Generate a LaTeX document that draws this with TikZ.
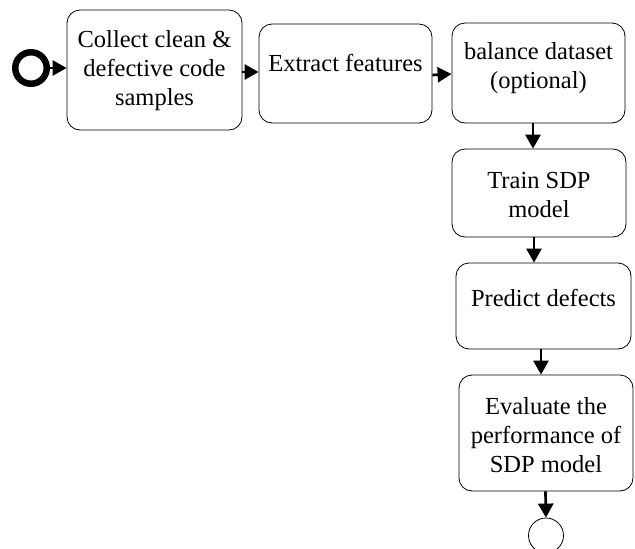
\documentclass[tikz,border=0pt]{standalone}
\usepackage{fontspec}
\setmainfont{Liberation Serif}
\newfontfamily\tnr{Liberation Serif}
\usetikzlibrary{arrows.meta}
\begin{document}
\begin{tikzpicture}[x=1pt,y=-1pt,
  box/.style={draw, line width=0.8pt, rounded corners=13pt, inner sep=0pt},
  txt/.style={align=center, font=\tnr\fontsize{24.5}{29}\selectfont, inner sep=0pt},
  arr/.style={line width=2.7pt, -{Triangle[length=14pt,width=15pt]}}]
\useasboundingbox (0,0) rectangle (635,549);
\node[circle, draw, line width=6.5pt, minimum size=31.5pt, inner sep=0pt] (start) at (31,68) {};
\node[box, minimum width=175pt, minimum height=120pt] (b1) at (154.5,70) {};
\node[box, minimum width=173pt, minimum height=99pt] (b2) at (345.5,73.5) {};
\node[box, minimum width=173pt, minimum height=100pt] (b3) at (538.5,73) {};
\node[box, minimum width=174pt, minimum height=88pt] (b4) at (539,193) {};
\node[box, minimum width=175pt, minimum height=86pt] (b5) at (543.5,306) {};
\node[box, minimum width=174pt, minimum height=116pt] (b6) at (546,433) {};
\node[circle, draw, line width=0.8pt, minimum size=35pt, inner sep=0pt] (end) at (546,535.5) {};
\node[txt] (t1) at (154.5,71) {Collect clean \&\\defective code\\samples};
\node[txt] (t2) at (345.5,63) {Extract features};
\node[txt] (t3) at (538.5,68) {balance dataset\\(optional)};
\node[txt] (t4) at (539,195) {Train SDP\\model};
\node[txt] (t5) at (543.5,298) {Predict defects};
\node[txt] (t6) at (546,435) {Evaluate the\\performance of\\SDP model};
\draw[arr] (start.east) -- (b1.west |- start.east);
\draw[arr] ([yshift=-2pt]b1.east) -- ([yshift=1.5pt]b2.west);
\draw[arr] ([yshift=-1.5pt]b2.east) -- ([yshift=-1pt]b3.west);
\draw[arr] ([xshift=-5.5pt]b3.south) -- ([xshift=-6pt]b4.north);
\draw[arr] ([xshift=-5pt]b4.south) -- ([xshift=-9.5pt]b5.north) ;
\draw[arr] ([xshift=-2.5pt]b5.south) -- ([xshift=-5pt]b6.north);
\draw[arr] ([xshift=-0.5pt]b6.south) -- (end.north);
\end{tikzpicture}
\end{document}
